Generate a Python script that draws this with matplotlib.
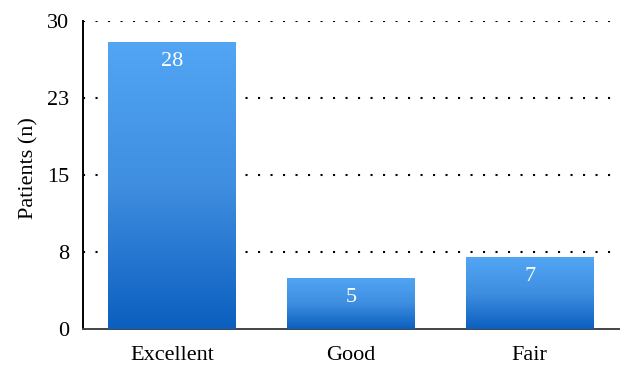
import matplotlib
matplotlib.use("Agg")
import matplotlib.pyplot as plt
import numpy as np
from matplotlib.colors import LinearSegmentedColormap

categories = ["Excellent", "Good", "Fair"]
values = [28, 5, 7]
ytick_vals = [0, 7.5, 15, 22.5, 30]
ytick_labels = ["0", "8", "15", "23", "30"]

plt.rcParams['font.family'] = ['Liberation Serif', 'DejaVu Serif']

fig = plt.figure(figsize=(6.33, 3.71), dpi=100)
ax = fig.add_axes([83/633, 1 - 329/371, 536/633, 308/371])

x = np.arange(len(categories))
bars = ax.bar(x, values, width=0.716, color='none', zorder=3)
cmap = LinearSegmentedColormap.from_list("g", ["#0B5FBF", "#3F8EE0", "#52A6F4"])
grad = np.linspace(0, 1, 256).reshape(-1, 1)
for b in bars:
    x0, y0 = b.get_x(), b.get_y()
    w, h = b.get_width(), b.get_height()
    im = ax.imshow(grad, cmap=cmap, aspect='auto', origin='lower',
                   extent=[x0, x0 + w, y0, y0 + h], zorder=3)
    im.set_clip_path(b)
for xi, v in zip(x, values):
    ax.text(xi, v - 1.0, str(v), ha='center', va='top', color='white',
            fontsize=16, zorder=4)

ax.set_xlim(-0.5, len(categories) - 0.5)
ax.set_ylim(0, 30)
ax.set_yticks(ytick_vals)
ax.set_yticklabels(ytick_labels, fontsize=16)
ax.set_xticks(x)
ax.set_xticklabels(categories, fontsize=16)
ax.tick_params(axis='y', length=0, pad=10)
ax.tick_params(axis='x', length=0, pad=12)
for t in ytick_vals[1:]:
    ax.axhline(t, color='black', linestyle=(0, (1, 5)), linewidth=1.5, zorder=1)
ax.spines['top'].set_visible(False)
ax.spines['right'].set_visible(False)
ax.spines['left'].set_color('black')
ax.spines['left'].set_linewidth(1.4)
ax.spines['bottom'].set_color('#444444')
ax.spines['bottom'].set_linewidth(1.4)
ax.set_ylabel("Patients (n)", fontsize=16)
ax.yaxis.set_label_coords(-0.083, 0.523)

fig.savefig("out.png", dpi=100)
